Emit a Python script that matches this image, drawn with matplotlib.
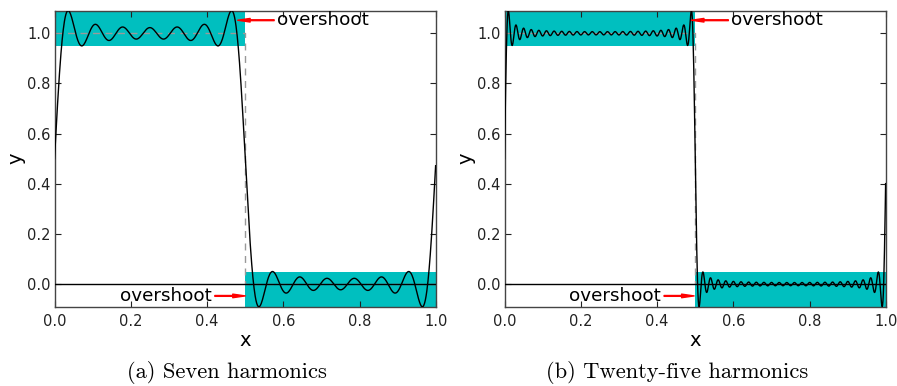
import numpy as np
import matplotlib
matplotlib.use("Agg")
import matplotlib.pyplot as plt
from matplotlib.patches import Rectangle

# ---- data ----
n_harmonics = [7, 25]
captions = ["(a) Seven harmonics", "(b) Twenty-five harmonics"]
x_ticks = [0.0, 0.2, 0.4, 0.6, 0.8, 1.0]
y_ticks = [0.0, 0.2, 0.4, 0.6, 0.8, 1.0]
square_x = [0.0, 0.5, 0.5, 1.0]
square_y = [1.0, 1.0, 0.0, 0.0]
band_top = [0.95, 1.2]      # cyan band over the high part (x 0..0.5)
band_bottom = [-0.2, 0.05]  # cyan band over the low part (x 0.5..1)
ylims = (-0.09, 1.09)
top_text_x = [0.583, 0.594]
top_arrow_x = [0.48, 0.49]
bot_text_x = [0.413, 0.411]
bot_arrow_x = [0.5, 0.497]
top_y = 1.052
bot_y = -0.047

x = np.arange(0, 1, 0.001)


def partial_sum(n):
    y = np.full_like(x, 0.5)
    for j in range(n):
        k = 2 * j + 1
        y += 2.0 / (np.pi * k) * np.sin(2 * np.pi * k * x)
    return y


W, H = 897, 386
fig = plt.figure(figsize=(W / 100, H / 100), dpi=100)
lefts = [54.5 / W, 504.5 / W]
caption_x = [227 / W, 677.5 / W]

for i, n in enumerate(n_harmonics):
    ax = fig.add_axes([lefts[i], (H - 306.7) / H, 381.5 / W, 296 / H])
    ax.add_patch(Rectangle((0, band_top[0]), 0.5, band_top[1] - band_top[0],
                           facecolor="c", edgecolor="none", zorder=1))
    ax.add_patch(Rectangle((0.5, band_bottom[0]), 0.5, band_bottom[1] - band_bottom[0],
                           facecolor="c", edgecolor="none", zorder=1))
    ax.plot(square_x, square_y, color="#999999", lw=1, linestyle=(0, (5, 4)), zorder=2)
    ax.axhline(0, color="black", lw=1, zorder=3)
    ax.plot(x, partial_sum(n), color="black", lw=1, zorder=4)
    ax.set_xlim(0, 1)
    ax.set_ylim(*ylims)
    ax.set_xticks(x_ticks)
    ax.set_yticks(y_ticks)
    ax.set_xticklabels([f"{v:.1f}" for v in x_ticks])
    ax.set_yticklabels([f"{v:.1f}" for v in y_ticks])
    ax.tick_params(direction="in", length=4, width=0.8, top=True, right=True,
                   labelsize=10.5, colors="#222222")
    ax.tick_params(axis="y", pad=3)
    ax.tick_params(axis="x", pad=5)
    for s in ax.spines.values():
        s.set_color("#444444")
        s.set_linewidth(1)
    ax.set_xlabel("x", fontsize=14, labelpad=2)
    ax.set_ylabel("y", fontsize=14)
    ax.yaxis.set_label_coords(-0.077, 0.5)

    arrow = dict(color="red", width=0.6, headwidth=2.6, headlength=9, shrink=0)
    ax.annotate("overshoot", xy=(top_arrow_x[i], top_y), xytext=(top_text_x[i], top_y),
                fontsize=13.2, va="center", ha="left", arrowprops=arrow, zorder=5)
    ax.annotate("overshoot", xy=(bot_arrow_x[i], bot_y), xytext=(bot_text_x[i], bot_y),
                fontsize=13.2, va="center", ha="right", arrowprops=arrow, zorder=5)

    fig.text(caption_x[i], (H - 373) / H, captions[i], family="cmr10",
             fontsize=16.2, ha="center", va="center")

fig.savefig("out.png", dpi=100)
